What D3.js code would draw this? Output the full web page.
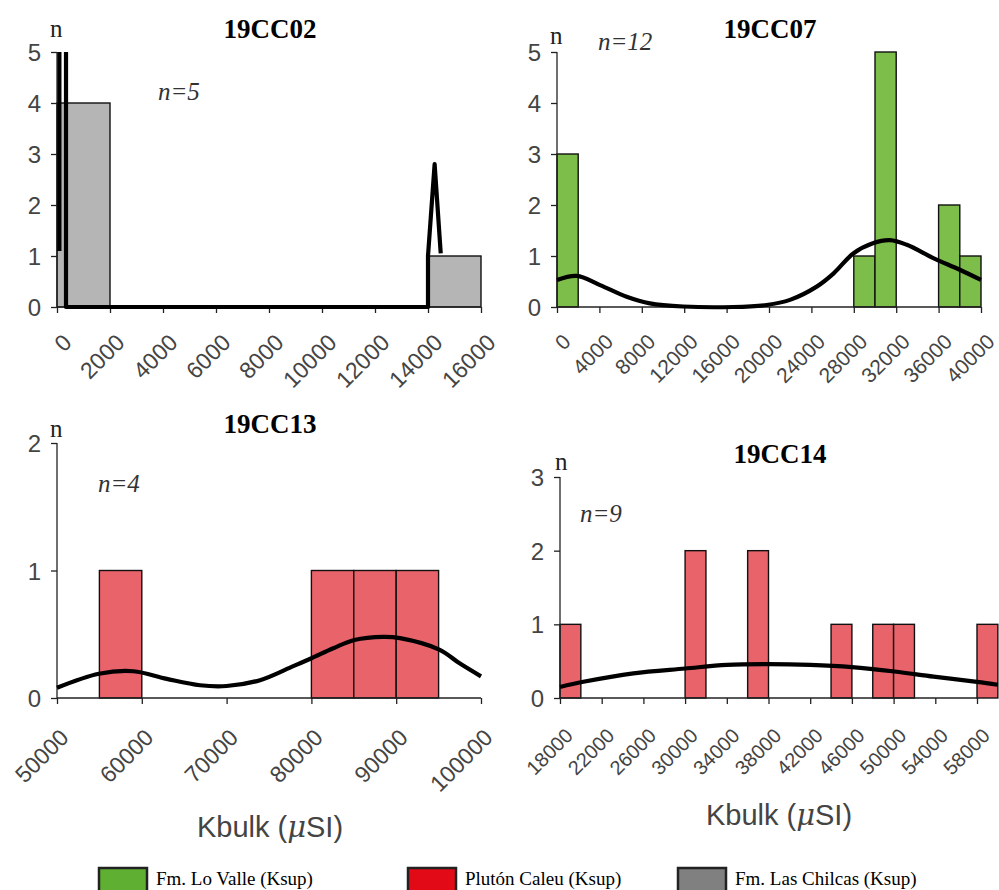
<!DOCTYPE html>
<html>
<head>
<meta charset="utf-8">
<script src="https://cdn.jsdelivr.net/npm/d3@7.9.0/dist/d3.min.js"></script>
<style>
  body { margin: 0; background: #fff; }
  svg { display: block; }
  .tick-y, .tick-x { font-family: "Liberation Sans", Arial, sans-serif; fill: #444; }
  .title { font-family: "Liberation Serif", "Times New Roman", serif; font-weight: bold; font-size: 27px; }
  .nlab { font-family: "Liberation Serif", "Times New Roman", serif; font-size: 25px; fill: #222; }
  .ncount { font-family: "Liberation Serif", "Times New Roman", serif; font-style: italic; font-size: 25px; fill: #333; }
  .xtitle { font-family: "Liberation Sans", Arial, sans-serif; font-size: 29px; fill: #444; }
  .legend text { font-family: "Liberation Serif", "Times New Roman", serif; font-size: 19px; }
</style>
</head>
<body>
<svg id="chart" width="999" height="890"></svg>
<script>
// ====== DATA ======
const sampleNames = ["19CC02", "19CC07", "19CC13", "19CC14"];
const sampleCounts = [5, 12, 4, 9];

// histogram bins: [from, to, count]
const bins02 = [[0, 2000, 4], [14000, 16000, 1]];
const bins07 = [[0, 2000, 3], [28000, 30000, 1], [30000, 32000, 5], [36000, 38000, 2], [38000, 40000, 1]];
const bins13 = [[55000, 60000, 1], [80000, 85000, 1], [85000, 90000, 1], [90000, 95000, 1]];
const bins14 = [[18000, 20000, 1], [30000, 32000, 2], [36000, 38000, 2], [44000, 46000, 1],
                [48000, 50000, 1], [50000, 52000, 1], [58000, 60000, 1]];

// density curves: [Kbulk, n]
const curve02 = [[90, 1.1], [90, 5.6], [340, 5.6], [340, 0], [14000, 0], [14000, 1.0], [14250, 2.8], [14480, 1.05]];
const curve07 = [[0, 0.53], [1860, 0.61], [4060, 0.43], [6570, 0.2], [8770, 0.07], [11900, 0.01], [16600, 0],
                 [19780, 0.04], [21980, 0.14], [24500, 0.4], [26100, 0.66], [27950, 1.05], [29800, 1.25],
                 [31400, 1.31], [33000, 1.22], [35500, 0.96], [38000, 0.73], [40000, 0.53]];
const curve13 = [[50000, 0.08], [54950, 0.19], [59000, 0.21], [62940, 0.15], [66860, 0.1], [70000, 0.094],
                 [73940, 0.14], [77860, 0.25], [79950, 0.31], [82580, 0.39], [85060, 0.455], [88480, 0.48],
                 [90450, 0.47], [95080, 0.38], [97520, 0.27], [100000, 0.17]];
const curve14 = [[18000, 0.15], [20240, 0.22], [25040, 0.335], [30000, 0.4], [34000, 0.45], [38000, 0.46],
                 [42000, 0.45], [46000, 0.42], [50100, 0.36], [53840, 0.29], [58000, 0.22], [60000, 0.18]];

const xTicks02 = [0, 2000, 4000, 6000, 8000, 10000, 12000, 14000, 16000];
const xTicks07 = [0, 4000, 8000, 12000, 16000, 20000, 24000, 28000, 32000, 36000, 40000];
const xTicks13 = [50000, 60000, 70000, 80000, 90000, 100000];
const xTicks14 = [18000, 22000, 26000, 30000, 34000, 38000, 42000, 46000, 50000, 54000, 58000];

const legendLabels = ["Fm. Lo Valle (Ksup)", "Plutón Caleu (Ksup)", "Fm. Las Chilcas (Ksup)"];
const legendColors = ["#5fb032", "#e20a16", "#808080"];

// ====== LAYOUT ======
const panels = [
  { bins: bins02, curve: curve02, ticks: xTicks02, xd: [0, 16000], yMax: 5, fill: "#b5b5b5",
    xr: [57, 481], yr: [307, 52], tfs: 23, tdx: 16, tdy: 37, curveType: d3.curveLinear,
    title: [270, 38], nlab: [50, 37], ncount: [158, 100], xtitle: null },
  { bins: bins07, curve: curve07, ticks: xTicks07, xd: [0, 40000], yMax: 5, fill: "#7dbe4b",
    xr: [557, 981], yr: [307, 52], tfs: 21, tdx: 15, tdy: 36, curveType: d3.curveCatmullRom,
    title: [770, 38], nlab: [550, 44], ncount: [598, 50], xtitle: null },
  { bins: bins13, curve: curve13, ticks: xTicks13, xd: [50000, 100000], yMax: 2, fill: "#e9636b",
    xr: [57, 481], yr: [698, 443], tfs: 23, tdx: 13, tdy: 41, curveType: d3.curveCatmullRom,
    title: [270, 433], nlab: [50, 437], ncount: [98, 492], xtitle: [270, 837] },
  { bins: bins14, curve: curve14, ticks: xTicks14, xd: [18000, 58000], yMax: 3, fill: "#e9636b",
    xr: [560, 977], yr: [698, 477], tfs: 20, tdx: 14, tdy: 39, curveType: d3.curveCatmullRom,
    title: [780, 463], nlab: [555, 470], ncount: [580, 522], xtitle: [779, 825] }
];

const svg = d3.select("#chart");
svg.append("rect").attr("width", 999).attr("height", 890).attr("fill", "#fff");

panels.forEach((p, i) => {
  const x = d3.scaleLinear().domain(p.xd).range(p.xr);
  const y = d3.scaleLinear().domain([0, p.yMax]).range(p.yr);
  const g = svg.append("g");

  // clip at top of y axis (curves overshoot in 19CC02)
  const clipId = "clip" + i;
  svg.append("clipPath").attr("id", clipId)
    .append("rect").attr("x", 0).attr("y", p.yr[1]).attr("width", 999).attr("height", p.yr[0] - p.yr[1] + 4);

  // bars
  g.selectAll("rect.bar").data(p.bins).join("rect")
    .attr("class", "bar")
    .attr("x", d => x(d[0]))
    .attr("width", d => x(d[1]) - x(d[0]))
    .attr("y", d => y(d[2]))
    .attr("height", d => y(0) - y(d[2]))
    .attr("fill", p.fill)
    .attr("stroke", "#111")
    .attr("stroke-width", 1.4);

  // axes
  const xAxis = d3.axisBottom(x).tickValues(p.ticks).tickSize(6).tickFormat("");
  const yAxis = d3.axisLeft(y).ticks(p.yMax).tickSize(6).tickFormat("");
  g.append("g").attr("transform", `translate(0,${p.yr[0]})`).call(xAxis)
    .call(a => a.selectAll("path, line").attr("stroke", "#222").attr("stroke-width", 1.3));
  g.append("g").attr("transform", `translate(${p.xr[0]},0)`).call(yAxis)
    .call(a => a.selectAll("path, line").attr("stroke", "#222").attr("stroke-width", 1.3));
  g.selectAll(".domain").attr("d", null);
  g.append("line").attr("x1", p.xr[0]).attr("x2", p.xr[1]).attr("y1", p.yr[0]).attr("y2", p.yr[0])
    .attr("stroke", "#222").attr("stroke-width", 1.3);
  g.append("line").attr("x1", p.xr[0]).attr("x2", p.xr[0]).attr("y1", p.yr[0]).attr("y2", p.yr[1])
    .attr("stroke", "#222").attr("stroke-width", 1.3);

  // y tick labels
  g.selectAll("text.tick-y").data(d3.range(0, p.yMax + 1)).join("text")
    .attr("class", "tick-y")
    .attr("x", p.xr[0] - 16)
    .attr("y", d => y(d) + 9)
    .attr("text-anchor", "end")
    .attr("font-size", 24)
    .text(d => d);

  // x tick labels
  g.selectAll("text.tick-x").data(p.ticks).join("text")
    .attr("class", "tick-x")
    .attr("text-anchor", "end")
    .attr("font-size", p.tfs)
    .attr("transform", d => `translate(${x(d) + p.tdx},${p.yr[0] + p.tdy}) rotate(-45)`)
    .text(d => d);

  // density curve
  const line = d3.line().x(d => x(d[0])).y(d => y(d[1])).curve(p.curveType);
  g.append("path")
    .attr("d", line(p.curve))
    .attr("fill", "none")
    .attr("stroke", "#000")
    .attr("stroke-width", 4.2)
    .attr("stroke-linejoin", "round")
    .attr("clip-path", `url(#${clipId})`);

  // texts
  g.append("text").attr("class", "title").attr("x", p.title[0]).attr("y", p.title[1])
    .attr("text-anchor", "middle").text(sampleNames[i]);
  g.append("text").attr("class", "nlab").attr("x", p.nlab[0]).attr("y", p.nlab[1]).text("n");
  g.append("text").attr("class", "ncount").attr("x", p.ncount[0]).attr("y", p.ncount[1])
    .text("n=" + sampleCounts[i]);
  if (p.xtitle) {
    const t = g.append("text").attr("class", "xtitle").attr("x", p.xtitle[0]).attr("y", p.xtitle[1])
      .attr("text-anchor", "middle");
    t.append("tspan").text("Kbulk (");
    t.append("tspan").attr("font-style", "italic").attr("font-family", "DejaVu Serif, serif").text("μ");
    t.append("tspan").text("SI)");
  }
});

// ====== LEGEND ======
const legendX = [99, 408, 678];
const legend = svg.append("g").attr("class", "legend");
legendLabels.forEach((label, i) => {
  legend.append("rect")
    .attr("x", legendX[i]).attr("y", 868).attr("width", 48).attr("height", 26)
    .attr("fill", legendColors[i]).attr("stroke", "#222").attr("stroke-width", 2.5);
  legend.append("text")
    .attr("x", legendX[i] + 57).attr("y", 885)
    .text(label);
});
</script>
</body>
</html>
